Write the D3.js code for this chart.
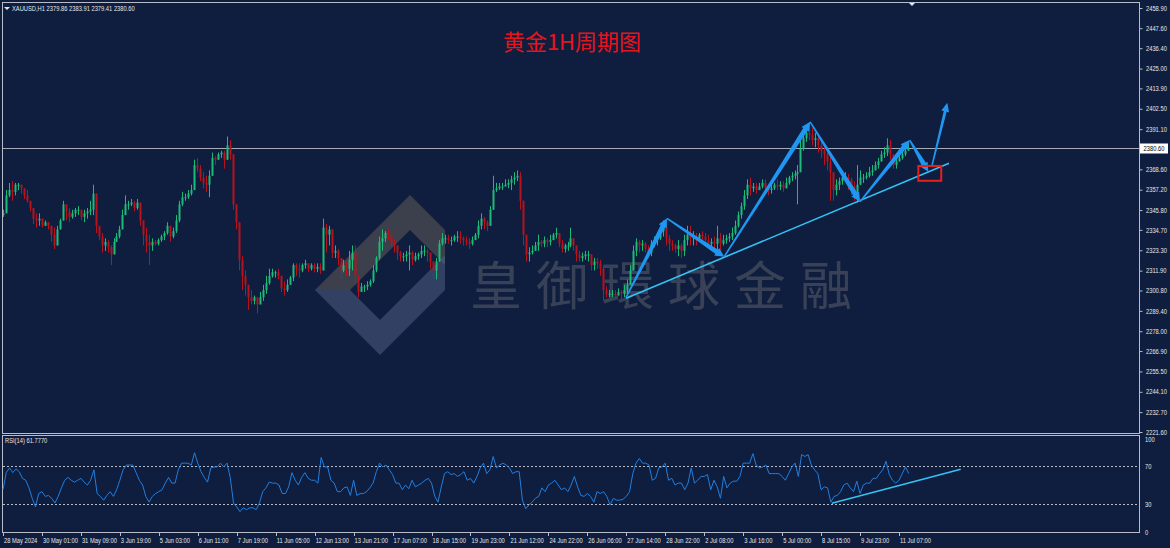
<!DOCTYPE html>
<meta charset="utf-8">
<style>
    body { margin: 0; background: #0f1d3e; }
    svg { display: block; }
    .lbl { font-family: "Liberation Sans", "DejaVu Sans", sans-serif; font-size: 7.6px; fill: #e6e6e6; }
</style>
<body>
<script src="https://cdn.jsdelivr.net/npm/d3@7/dist/d3.min.js"></script>
<script>

var firstOpen = 2343;
var closes = [
 2344,2354,2357,2356,2360,2360,2358,2354,2351,2347,
 2341,2340,2341,2337,2339,2337,2332,2326,2335,2340,
 2349,2345,2342,2344,2346,2346,2342,2344,2345,2346,
 2355,2337,2331,2326,2328,2325,2321,2328,2331,2335,
 2343,2349,2349,2350,2347,2350,2340,2332,2328,2326,
 2328,2327,2329,2331,2333,2337,2331,2334,2340,2349,
 2353,2353,2355,2357,2371,2369,2364,2361,2360,2365,
 2375,2374,2377,2378,2374,2382,2377,
 2349,2339,2318,2309,2304,2297,2295,2297,2293,2297,2301,2305,2309,
 2311,2311,2309,2302,2301,2304,2308,2315,2313,2312,
 2315,2316,2313,2315,2313,2314,2312,2336,2332,2335,
 2322,2323,2319,2312,2315,2313,2318,2322,2309,2300,
 2303,2303,2304,2306,2312,2319,2328,2330,2333,2332,
 2327,2326,2322,2320,2320,2321,2322,2318,2320,2321,
 2323,2323,2322,2317,2312,2317,2327,2330,2330,2329,
 2329,2331,2331,2330,2329,2328,2327,2329,2332,2337,
 2341,2339,2337,2346,2357,2358,2359,2359,2360,2361,
 2363,2364,2365,2351,2332,2321,2322,2323,2326,2328,
 2327,2329,2328,2329,2332,2333,2327,2324,2326,2326,
 2330,2326,2321,2319,2320,2321,2321,2315,2317,2316,
 2313,2301,2299,2299,2299,2298,2300,2299,2301,2304,
 2312,2323,2328,2326,2327,2324,2322,2327,2329,2330,
 2334,2336,2330,2327,2326,2324,2326,2323,2329,2332,
 2330,2331,2330,2332,2331,2329,2327,2328,2327,2330,
 2327,2329,2330,2331,2333,2337,2343,2348,2354,2360,
 2358,2359,2357,2359,2361,2358,2357,2358,2360,2359,
 2360,2358,2361,2364,2365,2366,2367,2380,2386,2389,
 2388,2385,2386,2382,2379,2377,2373,2367,2357,2360,
 2362,2364,2364,2363,2359,2356,2360,2364,2364,2365,
 2367,2368,2371,2373,2377,2378,2382,2377,2371,2373,
 2375,2377,2379,2380.6
];
var highs = [
 2346,2357,2361,2362,2361,2361,2360,2358,2357,2351,
 2347,2344,2344,2341,2340,2339,2337,2336,2337,2341,
 2351,2349,2347,2346,2347,2348,2346,2346,2347,2351,
 2360,2354,2337,2333,2330,2329,2326,2330,2333,2337,
 2346,2354,2351,2352,2351,2352,2349,2339,2336,2332,
 2330,2329,2330,2332,2334,2339,2336,2336,2343,2351,
 2356,2355,2357,2360,2374,2375,2371,2367,2365,2368,
 2378,2376,2378,2379,2379,2387,2385,
 2376,2348,2337,2320,2312,2304,2301,2298,2297,2300,2304,2309,2313,
 2313,2312,2313,2308,2306,2307,2309,2316,2316,2316,
 2316,2318,2316,2316,2316,2316,2316,2341,2338,2337,
 2329,2326,2324,2318,2318,2317,2323,2326,2326,2307,
 2305,2304,2306,2307,2315,2320,2331,2335,2334,2335,
 2332,2329,2326,2323,2322,2323,2326,2323,2322,2322,
 2326,2326,2324,2322,2317,2319,2329,2333,2332,2332,
 2331,2332,2334,2334,2331,2331,2330,2331,2333,2340,
 2344,2342,2340,2348,2365,2361,2361,2361,2363,2363,
 2365,2367,2368,2367,2349,2326,2325,2326,2328,2332,
 2329,2331,2330,2332,2333,2336,2332,2329,2327,2328,
 2336,2330,2326,2323,2322,2323,2323,2321,2319,2319,
 2318,2315,2303,2301,2301,2301,2302,2301,2304,2307,
 2315,2326,2330,2329,2329,2328,2326,2329,2331,2332,
 2336,2340,2336,2332,2329,2327,2329,2327,2332,2337,
 2337,2334,2333,2333,2334,2333,2332,2330,2331,2337,
 2333,2332,2332,2333,2336,2340,2345,2350,2357,2363,
 2364,2361,2361,2361,2363,2363,2360,2360,2361,2363,
 2362,2362,2364,2365,2367,2368,2371,2385,2391,2393,
 2394,2392,2389,2388,2384,2381,2378,2376,2360,2363,
 2364,2367,2367,2366,2364,2362,2371,2368,2366,2367,
 2370,2371,2373,2375,2379,2381,2386,2385,2376,2375,
 2378,2379,2382,2383.9
];
var lows = [
 2342,2347,2353,2351,2354,2357,2355,2352,2350,2345,
 2338,2336,2337,2336,2337,2335,2328,2324,2330,2335,
 2341,2340,2339,2341,2342,2343,2340,2339,2341,2343,
 2343,2333,2329,2322,2323,2322,2315,2323,2328,2330,
 2335,2343,2346,2348,2345,2346,2337,2326,2322,2315,
 2323,2326,2326,2328,2329,2332,2328,2330,2333,2339,
 2348,2351,2352,2354,2357,2367,2362,2358,2356,2353,
 2369,2371,2374,2375,2369,2379,2374,
 2346,2335,2312,2301,2298,2290,2293,2293,2288,2293,2295,2299,2304,
 2308,2308,2307,2300,2298,2300,2304,2306,2309,2308,
 2311,2313,2311,2312,2311,2311,2310,2312,2322,2326,
 2319,2319,2315,2307,2311,2309,2309,2312,2304,2297,
 2300,2300,2301,2303,2305,2311,2318,2323,2328,2329,
 2325,2322,2318,2317,2317,2317,2312,2315,2317,2318,
 2319,2320,2317,2313,2307,2307,2317,2326,2327,2327,
 2326,2328,2328,2327,2326,2326,2324,2326,2329,2330,
 2335,2335,2334,2337,2346,2356,2357,2357,2359,2358,
 2357,2360,2362,2346,2326,2317,2317,2321,2323,2323,
 2325,2325,2325,2326,2329,2330,2325,2322,2322,2323,
 2325,2323,2317,2317,2317,2318,2317,2312,2312,2313,
 2309,2295,2297,2297,2297,2297,2298,2296,2297,2298,
 2304,2312,2320,2322,2323,2322,2319,2320,2325,2326,
 2329,2331,2326,2323,2323,2322,2320,2319,2320,2326,
 2326,2326,2326,2329,2329,2326,2324,2323,2324,2320,
 2323,2326,2327,2328,2329,2332,2336,2341,2346,2352,
 2354,2356,2355,2357,2358,2356,2354,2355,2357,2357,
 2357,2356,2358,2360,2362,2363,2349,2367,2379,2384,
 2385,2382,2381,2378,2375,2371,2368,2351,2351,2354,
 2357,2360,2362,2357,2354,2351,2350,2360,2361,2363,
 2364,2365,2368,2369,2373,2375,2376,2374,2369,2369,
 2373,2374,2376,2379.4
];

// RSI(14)
var rsi = [
 45,63,68,63,67,64,57,55,47,36,27,41,43,38,39,36,31,38,47,55,
 58,55,53,55,57,53,50,55,66,41,38,34,39,43,38,45,55,66,71,71,
 71,63,55,50,38,32,38,41,43,45,52,58,52,52,66,73,73,73,71,84,
 73,64,58,53,68,69,69,73,69,73,58,31,27,22,26,24,26,26,24,31,
 43,47,53,52,52,50,41,41,48,63,55,50,58,63,57,55,55,52,79,69,
 69,55,52,43,43,47,48,39,55,39,41,41,43,47,52,64,73,69,71,66,
 61,52,52,
 45,50,46,55,48,50,52,55,57,52,38,32,48,62,64,61,62,59,61,64,
 55,57,52,59,68,73,62,66,80,68,71,73,71,68,62,64,64,34,25,29,
 32,36,38,47,43,50,52,55,50,45,47,43,50,59,48,39,38,41,38,32,
 43,41,43,38,29,36,34,34,35,38,43,62,73,78,73,73,71,55,57,68,
 69,73,55,57,50,52,52,45,52,68,52,55,59,59,61,45,55,48,36,59,
 47,52,54,54,59,73,73,73,83,71,68,69,71,62,62,62,62,59,55,62,
 69,73,59,
 82,80,82,71,66,62,45,48,47,32,38,39,43,50,52,47,43,54,41,50,
 52,52,57,57,62,66,75,61,55,52,55,62,69,62
];

var priceTicks = [2458.90, 2447.60, 2436.40, 2425.00, 2413.90, 2402.50, 2391.10,
    2368.60, 2357.20, 2345.80, 2334.70, 2323.30, 2311.90, 2300.80, 2289.40, 2278.00,
    2266.90, 2255.50, 2244.10, 2232.70, 2221.60];
var lastPrice = 2380.60;
var rsiTicks = [100, 70, 30, 0];
var timeLabels = ["28 May 2024", "30 May 01:00", "31 May 09:00", "3 Jun 19:00", "5 Jun 03:00",
    "6 Jun 11:00", "7 Jun 19:00", "11 Jun 05:00", "12 Jun 13:00", "13 Jun 21:00", "17 Jun 07:00",
    "18 Jun 15:00", "19 Jun 23:00", "21 Jun 12:00", "24 Jun 22:00", "26 Jun 06:00", "27 Jun 14:00",
    "28 Jun 22:00", "2 Jul 08:00", "3 Jul 16:00", "5 Jul 00:00", "8 Jul 15:00", "9 Jul 23:00",
    "11 Jul 07:00"];
var barsPerLabel = 32;

// drawn annotations, [bar index, price]
var zigzag = [[511.8, 2297.0], [545.4, 2341.2], [592.4, 2319.7], [663, 2395.2],
    [704, 2350.5], [744.8, 2385.0], [760.1, 2367.3]];
var finalArrow = [[762.9, 2370.1], [775.7, 2405.9]];
var supportLine = [[511.8, 2296.4], [777.1, 2372.0]];
var box = [[751.9, 2370.5], [770.7, 2362.2]];
var rsiLine = [[680.8, 30.7], [786.7, 66.5]];

// ---- layout ----
var W = 1170, H = 548;
var svg = d3.select("body").append("svg").attr("width", W).attr("height", H);
svg.append("rect").attr("width", W).attr("height", H).attr("fill", "#0f1d3e");

var y = d3.scaleLinear().domain([2221.6, 2458.9]).range([432, 8]);
var yr = d3.scaleLinear().domain([0, 100]).range([532.5, 437.5]);
var xh = d3.scaleLinear().domain([0, 736]).range([3, 899]);
var xc = d3.scaleLinear().domain([0, closes.length - 1]).range([xh(0), xh(743.4)]);
var xr = d3.scaleLinear().domain([0, rsi.length - 1]).range([xh(0), xh(744)]);

// small terminal-style text, squeezed horizontally like the narrow platform font
var squeeze = 0.76;
function smallText(parent, x, yy, str, anchor) {
    return parent.append("text").attr("class", "lbl")
        .attr("transform", "translate(" + x + "," + yy + ") scale(" + squeeze + ",1)")
        .attr("text-anchor", anchor || "start")
        .text(str);
}

svg.append("clipPath").attr("id", "pclip").append("rect")
    .attr("x", 3).attr("y", 3).attr("width", 1136).attr("height", 430);

// watermark logo + text (behind the candles)
var wm = svg.append("g").attr("clip-path", "url(#pclip)");
wm.append("path")
    .attr("d", "M315,290 L410,195 L445,230 L445,265 L410,230 L350,290 Z")
    .attr("fill", "rgba(105,98,90,0.5)");
wm.append("path")
    .attr("d", "M315,290 L350,290 L380,320 L445,255 L445,290 L380,355 Z")
    .attr("fill", "rgba(85,100,135,0.5)");
wm.append("text")
    .attr("x", 470).attr("y", 305)
    .attr("font-family", "'Noto Sans CJK TC', 'Noto Sans CJK SC', sans-serif")
    .attr("font-size", 52).attr("letter-spacing", 14)
    .attr("fill", "rgba(120,120,125,0.4)")
    .text("皇御環球金融");

// current price line
svg.append("line")
    .attr("x1", 3).attr("x2", 1139)
    .attr("y1", Math.round(y(lastPrice)) + 0.5).attr("y2", Math.round(y(lastPrice)) + 0.5)
    .attr("stroke", "#a8acb8").attr("stroke-width", 1);

// candles
var candles = svg.append("g").attr("clip-path", "url(#pclip)");
var bars = closes.map(function (c, i) {
    var o = i === 0 ? firstOpen : closes[i - 1];
    return {i: i, o: o, c: c, h: Math.max(highs[i], o, c), l: Math.min(lows[i], o, c)};
});
var upCol = "#1dbb78", dnCol = "#b8121c";
candles.selectAll(".wick").data(bars).enter().append("line")
    .attr("x1", function (d) { return Math.round(xc(d.i)) + 0.5; })
    .attr("x2", function (d) { return Math.round(xc(d.i)) + 0.5; })
    .attr("y1", function (d) { return y(d.h); })
    .attr("y2", function (d) { return y(d.l); })
    .attr("stroke", function (d) { return d.c >= d.o ? upCol : dnCol; });
candles.selectAll(".body").data(bars).enter().append("rect")
    .attr("x", function (d) { return Math.round(xc(d.i)) - 0.5; })
    .attr("width", 2)
    .attr("y", function (d) { return y(Math.max(d.o, d.c)); })
    .attr("height", function (d) { return Math.max(1, Math.abs(y(d.o) - y(d.c))); })
    .attr("fill", function (d) { return d.c >= d.o ? upCol : dnCol; });

// annotations
var ann = svg.append("g");
ann.append("line")
    .attr("x1", xh(supportLine[0][0])).attr("y1", y(supportLine[0][1]))
    .attr("x2", xh(supportLine[1][0])).attr("y2", y(supportLine[1][1]))
    .attr("stroke", "#33c3f5").attr("stroke-width", 1.6);

function arrow(p0, p1, w0, w1, hl, hw) {
    var x0 = xh(p0[0]), y0 = y(p0[1]), x1 = xh(p1[0]), y1 = y(p1[1]);
    var dx = x1 - x0, dy = y1 - y0, L = Math.sqrt(dx * dx + dy * dy);
    var ux = dx / L, uy = dy / L, nx = -uy, ny = ux;
    var bx = x1 - ux * hl, by = y1 - uy * hl;
    var pts = [
        [x0 + nx * w0 / 2, y0 + ny * w0 / 2],
        [bx + nx * w1 / 2, by + ny * w1 / 2],
        [bx + nx * hw, by + ny * hw],
        [x1, y1],
        [bx - nx * hw, by - ny * hw],
        [bx - nx * w1 / 2, by - ny * w1 / 2],
        [x0 - nx * w0 / 2, y0 - ny * w0 / 2]
    ];
    ann.append("path").attr("d", d3.line()(pts) + "Z").attr("fill", "#1f97f2");
}
for (var k = 0; k < zigzag.length - 1; k++) {
    arrow(zigzag[k], zigzag[k + 1], 1.5, 5, 9, 4.5);
}
arrow(finalArrow[0], finalArrow[1], 1.5, 3, 9, 4);

ann.append("rect")
    .attr("x", xh(box[0][0])).attr("y", y(box[0][1]))
    .attr("width", xh(box[1][0]) - xh(box[0][0]))
    .attr("height", y(box[1][1]) - y(box[0][1]))
    .attr("fill", "none").attr("stroke", "#e8201c").attr("stroke-width", 2);

// title
svg.append("text")
    .attr("x", 572).attr("y", 50).attr("text-anchor", "middle")
    .attr("font-family", "'Noto Sans CJK SC', sans-serif")
    .attr("font-size", 22).attr("fill", "#e8141c")
    .text("黄金1H周期图");

// header
svg.append("path").attr("d", "M4,7 L10,7 L7,10 Z").attr("fill", "#e6e6e6");
smallText(svg, 12, 11, "XAUUSD,H1  2379.86 2383.91 2379.41 2380.60");
svg.append("path").attr("d", "M909,3 L915,3 L912,6 Z").attr("fill", "#e6e6e6");

// panel frames
svg.append("rect").attr("x", 2.5).attr("y", 2.5).attr("width", 1137).attr("height", 431)
    .attr("fill", "none").attr("stroke", "#b8bcc6");
svg.append("rect").attr("x", 2.5).attr("y", 435.5).attr("width", 1137).attr("height", 97)
    .attr("fill", "none").attr("stroke", "#b8bcc6");

// price axis
var pAxis = svg.append("g")
    .attr("transform", "translate(1139.5,0)")
    .call(d3.axisRight(y).tickValues(priceTicks).tickSize(3).tickFormat(""));
pAxis.select(".domain").remove();
pAxis.selectAll("line").attr("stroke", "#b8bcc6");
var fmt = d3.format(".2f");
priceTicks.forEach(function (t) { smallText(svg, 1146, y(t) + 2.7, fmt(t)); });

svg.append("rect").attr("x", 1140).attr("y", Math.round(y(lastPrice)) - 4.5)
    .attr("width", 28).attr("height", 10).attr("fill", "#ffffff");
smallText(svg, 1154, y(lastPrice) + 3, fmt(lastPrice), "middle").style("fill", "#000");

// RSI panel
smallText(svg, 5, 443, "RSI(14) 61.7770");
svg.selectAll(".rsilvl").data([70, 30]).enter().append("line")
    .attr("x1", 3).attr("x2", 1139)
    .attr("y1", function (d) { return Math.round(yr(d)) + 0.5; })
    .attr("y2", function (d) { return Math.round(yr(d)) + 0.5; })
    .attr("stroke", "#b8bcc6").attr("stroke-dasharray", "2,2");
svg.append("path").datum(rsi)
    .attr("d", d3.line().x(function (d, i) { return xr(i); }).y(function (d) { return yr(d); }))
    .attr("fill", "none").attr("stroke", "#1f7fe0").attr("stroke-width", 1);
svg.append("line")
    .attr("x1", xh(rsiLine[0][0])).attr("y1", yr(rsiLine[0][1]))
    .attr("x2", xh(rsiLine[1][0])).attr("y2", yr(rsiLine[1][1]))
    .attr("stroke", "#33c3f5").attr("stroke-width", 1.6);
rsiTicks.forEach(function (t) {
    smallText(svg, 1145, yr(t) + (t === 100 ? 4 : 2.7), String(t));
});

// time axis
timeLabels.forEach(function (d, i) {
    var tx = xh(i * barsPerLabel);
    svg.append("line").attr("x1", Math.round(tx) + 0.5).attr("x2", Math.round(tx) + 0.5)
        .attr("y1", 533).attr("y2", 536).attr("stroke", "#b8bcc6");
    smallText(svg, tx + 1, 543, d);
});

</script>
</body>
